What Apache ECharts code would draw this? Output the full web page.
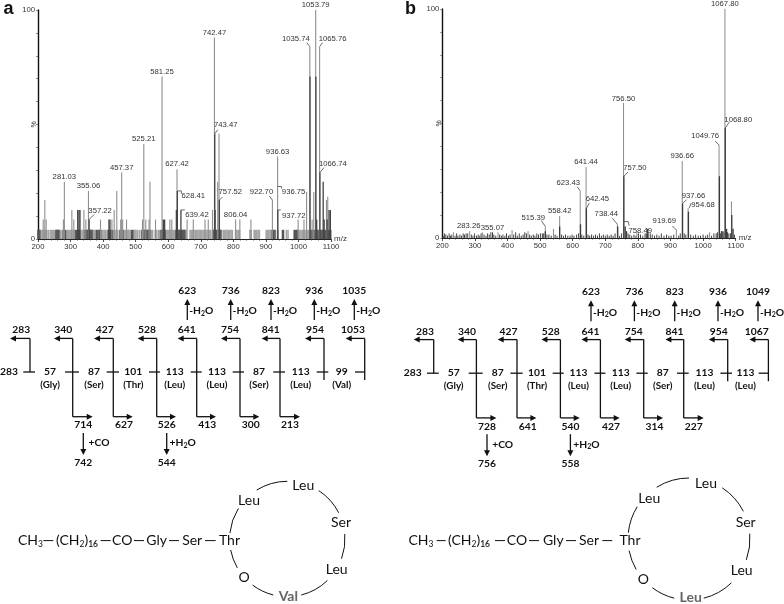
<!DOCTYPE html>
<html>
<head>
<meta charset="utf-8">
<style>
  html, body { margin: 0; background: #fff; }
  #chart { width: 784px; height: 604px; }
</style>
<script src="https://cdn.jsdelivr.net/npm/echarts@6/dist/echarts.min.js"></script>
</head>
<body>
<div id="chart"></div>
<script>
// spectrum a: baseline noise (m/z at the 4% level)
const noiseLevelA = 4;
const noiseLightA = [212,215,219,223,227,232,238,241,244,247,250,266,270,275,288,291,294,297,300,304,308,312,335,338,341,370,373,376,396,399,403,407,412,431,436,440,445,465,468,471,474,477,480,483,495,498,501,506,512,518,548,552,560,565,571,574,594,597,600,604,608,612,616,620,655,667,671,675,679,683,687,691,695,699,703,707,711,715,719,723,727,731,769,773,777,781,785,789,793,797,807,811,815,819,851,855,864,868,872,876,880,901,905,909,913,917,963,968,1004,1008,1012,1016,1020,1024,1028,1032];
const noiseDarkA = [200,203,206,255,258,261,264,278,281,284,316,319,322,325,328,345,348,351,354,357,360,363,366,380,384,388,392,416,419,422,425,428,452,455,458,461,488,491,520,523,526,529,532,535,538,541,544,578,581,584,587,590,624,627,630,633,636,639,642,645,648,651,738,741,744,747,750,753,756,759,762,920,924,928,936,951,954,987,991,995,998,1036,1040,1044,1048,1052,1056,1060,1064,1068,1072,1076,1080,1084,1088,1092,1096,1099];

// spectrum a: peaks [m/z, %]
const peaksLightA = [[216,8.5],[221,17],[225,8.5],[278,8.5],[281,25],[304,12.7],[310,8.5],[341,12.7],[347,8.5],[355,21],[392,8.5],[427,8.5],[434,12.7],[442,21],[454,8.5],[457,29],[460,8.5],[472,8.5],[521,8.5],[525,41.5],[531,8.5],[541,8.5],[544,25],[561,8.5],[581,71],[605,8.5],[611,8.5],[627,30.5],[658,8.5],[677,8.5],[713,8.5],[723,8.5],[736,12.7],[742,88],[752,25],[756,46],[807,8.5],[820,8.5],[854,8.5],[920,17],[936,36],[999,8.5],[1017,8.5],[1025,20.5],[1035,84],[1042,8.5],[1047,20.5],[1053,100],[1065,84],[1086,17],[1090,18.5]];
const peaksDarkA = [[322,12.7],[326,12.7],[329,12.7],[357,8.5],[418,8.5],[421,8.5],[585,8.5],[589,8.5],[625,12.7],[628,21],[639,12.7],[743,46],[744,12.7],[757,17],[936.6,12.7],[1035.5,71],[1053.5,71],[1056,8.5],[1066,29],[1076,25],[1079,8.5],[1088,8.5],[1094,12.7],[1098,12.7]];

// spectrum b: peaks [m/z, %]
const peaksLightB = [[234,2.5],[284,3],[323,2.5],[371,2.5],[414,3.5],[463,3],[516,5],[541,4],[560,9.6],[623,20.6],[641,31],[737,6],[756,59],[797,2.5],[832,2.5],[918,3.5],[936,33.6],[954,13],[1020,2.5],[1049,40.6],[1067,100],[1087,16]];
const peaksDarkB = [[516,3],[560,5],[624,6],[642,13],[738,5],[757,27],[761,5],[765,3],[830,4],[937,15],[955,11.5],[1050,27],[1058,3],[1068,48],[1072,4],[1088,10],[1092,4]];
const noiseB = [[203,1],[207,2],[211,1.5],[216,1],[221,2],[225,1],[229,1.5],[239,1],[244,2],[248,1],[254,1.5],[259,1],[264,2],[268,1.5],[273,2],[278,2],[289,1.5],[294,1],[299,2],[305,1],[310,1.5],[315,1],[319,2],[328,1.5],[334,1],[339,2],[344,1.5],[349,2.5],[354,2.5],[358,1.5],[364,1],[376,1.5],[381,1],[386,1.5],[392,1],[397,2],[403,1],[408,1.5],[419,1.5],[425,2.5],[430,1],[436,2],[442,1],[448,1.5],[453,2.5],[458,2],[468,1.5],[473,1],[479,1.5],[484,1],[490,2],[495,1.5],[501,2],[507,2],[511,2],[521,1.5],[527,1.5],[534,1],[546,1.5],[552,1],[566,1.5],[572,1],[578,1.5],[585,1],[592,1],[598,1.5],[604,1],[612,1.5],[618,2],[628,1.5],[634,1],[647,1.5],[652,1],[658,1.5],[664,1],[670,1.5],[676,1],[682,2],[688,1],[694,1.5],[700,1],[706,1.5],[712,1],[718,1.5],[724,1],[730,2],[744,1],[750,2],[770,2],[775,1.5],[781,1],[788,1.5],[794,1],[802,2],[808,1.5],[815,1],[822,2],[826,2],[838,2],[844,1.5],[851,1],[858,1.5],[865,1],[872,2],[880,1],[888,1.5],[895,1],[902,1],[910,1.5],[925,1],[930,2],[942,2],[947,1.5],[962,1.5],[970,1],[977,1.5],[985,1],[992,1],[1000,1.5],[1008,1],[1014,1.5],[1026,1],[1033,2],[1040,2],[1044,2.5],[1053,2],[1056,3],[1061,3],[1064,2.5],[1075,2.5],[1079,2],[1084,2],[1096,1.5]];

// peak annotations [label, m/z, %]
const labelsA = [["281.03",281,25],["355.06",355,21],["357.22",357,8.5],["457.37",457,29],["525.21",525,41.5],["581.25",581,71],["627.42",627,30.5],["628.41",628,21],["639.42",639,12.7],["742.47",742,88],["743.47",743,46],["757.52",757,17],["806.04",807,8.5],["922.70",920,17],["936.63",936,36],["936.75",936,36],["937.72",936.6,12.7],["1035.74",1035,84],["1053.79",1053,100],["1065.76",1065,84],["1066.74",1066,29]];
const labelsB = [["283.26",284,3],["355.07",354,2.5],["515.39",516,5],["558.42",560,9.6],["623.43",623,20.6],["641.44",641,31],["642.45",642,13],["738.44",737,6],["756.50",756,59],["757.50",757,27],["758.49",761,5],["919.69",918,3.5],["936.66",936,33.6],["937.66",937,15],["954.68",954,13],["1049.76",1049,40.6],["1067.80",1067,100],["1068.80",1068,48]];
const xTickLabels = [200,300,400,500,600,700,800,900,1000,1100];

// fragment ladders
const topIonsA = [623,736,823,936,1035];
const bIonsA = [283,340,427,528,641,754,841,954,1053];
const gapsA = [283,57,87,101,113,113,87,113,99];
const residuesA = ["(Gly)","(Ser)","(Thr)","(Leu)","(Leu)","(Ser)","(Leu)","(Val)"];
const yIonsA = [714,627,526,413,300,213];
const adductsA = [742,544];
const topIonsB = [623,736,823,936,1049];
const bIonsB = [283,340,427,528,641,754,841,954,1067];
const gapsB = [283,57,87,101,113,113,87,113,113];
const residuesB = ["(Gly)","(Ser)","(Thr)","(Leu)","(Leu)","(Ser)","(Leu)","(Leu)"];
const yIonsB = [728,641,540,427,314,227];
const adductsB = [756,558];
const ringA = ["Leu","Leu","Ser","Leu","Val","O"];
const ringB = ["Leu","Leu","Ser","Leu","Leu","O"];

// label placement relative to the top of the stem: dx, dy, leader points
const placeA = [
  [0,-5],[0,-5],[11,-9,[[0,0],[5,-5]]],[0,-5],[0,-5],[0,-5],[0,-5],
  [16,5,[[0,0],[4,0],[4,3]]],[16,5,[[0,0],[4,0]]],[0,-5],
  [11,-9,[[0,0],[3,-4]]],[11,-8,[[0,0],[3,-3]]],[0,-5],[-11,-8,[[0,0],[-3,-4]]],
  [0,-5],[16,35,[[0,30],[4,30],[4,32]]],[16,6,[[0,0],[3,0]]],
  [-14,-8,[[0,0],[-3,-4]]],[0,-5],[13,-8,[[0,0],[3,-4]]],[13,-9,[[0,0],[4,-5]]]
];
const placeB = [
  [-1,-5],[0,-4],[-12,-9,[[0,0],[-4,-6]]],[0,-5],[-12,-8,[[0,0],[-3,-4]]],[0,-5],
  [11,-9,[[0,0],[3,-5]]],[-11,-10,[[0,0],[-5,-6]]],[0,-4],[11,-8,[[0,0],[4,-4]]],
  [15,4,[[-1,-5],[3,-5],[4,-1]]],[-12,-9,[[0,0],[-4,-4]]],[0,-5],[11,-8,[[0,0],[4,-4]]],
  [15,-3,[[1,0],[3,-5]]],[-14,-9,[[0,0],[-4,-4]]],[0,-5],[13,-8,[[0,0],[4,-6]]]
];

const SPEC_FONT = '"Liberation Sans", Arial, sans-serif';
const DIAG_FONT = 'Lato, "Open Sans", sans-serif';
const INK = "#111";

function stems(xAxisIndex, data, color, width) {
  return {
    type: "custom",
    xAxisIndex: xAxisIndex,
    yAxisIndex: xAxisIndex,
    data: data,
    silent: true,
    encode: { x: 0, y: 1 },
    renderItem: (params, api) => {
      const top = api.coord([api.value(0), api.value(1)]);
      const base = api.coord([api.value(0), 0]);
      return {
        type: "line",
        shape: { x1: top[0], y1: top[1], x2: base[0], y2: base[1] },
        style: { stroke: color, lineWidth: width },
      };
    },
  };
}

function peakLabels(xAxisIndex, labels, place) {
  return {
    type: "custom",
    xAxisIndex: xAxisIndex,
    yAxisIndex: xAxisIndex,
    data: labels.map((l) => [l[1], l[2]]),
    silent: true,
    clip: false,
    encode: { x: 0, y: 1 },
    renderItem: (params, api) => {
      const p = api.coord([api.value(0), api.value(1)]);
      const pos = place[params.dataIndex];
      const children = [{
        type: "text",
        style: {
          x: p[0] + pos[0],
          y: p[1] + pos[1],
          text: labels[params.dataIndex][0],
          font: "7.7px " + SPEC_FONT,
          fill: "#333",
          align: "center",
          verticalAlign: "middle",
        },
      }];
      if (pos[2]) {
        children.push({
          type: "polyline",
          shape: { points: pos[2].map((q) => [p[0] + q[0], p[1] + q[1]]) },
          style: { stroke: "#444", lineWidth: 0.8, fill: "none" },
        });
      }
      return { type: "group", children: children };
    },
  };
}

function xAxisFor(index) {
  return {
    type: "value",
    gridIndex: index,
    min: 200,
    max: 1100,
    interval: 100,
    name: "m/z",
    nameLocation: "end",
    nameGap: 3,
    nameTextStyle: { fontFamily: SPEC_FONT, fontSize: 8, color: "#333", verticalAlign: "middle" },
    splitLine: { show: false },
    axisLine: { lineStyle: { color: "#222", width: 1 } },
    axisTick: { length: 3, lineStyle: { color: "#222", width: 0.8 } },
    minorTick: { show: true, splitNumber: 5, length: 1.5, lineStyle: { color: "#333", width: 0.8 } },
    axisLabel: {
      margin: 4,
      fontFamily: SPEC_FONT,
      fontSize: 7.7,
      color: "#333",
      showMinLabel: true,
      showMaxLabel: true,
      formatter: (v) => (xTickLabels.includes(v) ? String(v) : ""),
    },
  };
}

function yAxisFor(index) {
  return {
    type: "value",
    gridIndex: index,
    min: 0,
    max: 100,
    interval: 10,
    name: "%",
    nameLocation: "middle",
    nameGap: 0,
    nameMoveOverlap: false,
    nameRotate: 90,
    nameTextStyle: { fontFamily: SPEC_FONT, fontSize: 7, color: "#333" },
    splitLine: { show: false },
    axisLine: { show: true, lineStyle: { color: "#111", width: 1.4 } },
    axisTick: { length: 2, lineStyle: { color: "#555", width: 0.7 } },
    axisLabel: {
      margin: 3,
      fontFamily: SPEC_FONT,
      fontSize: 7.7,
      color: "#333",
      formatter: (v) => (v === 0 || v === 100 ? String(v) : ""),
    },
  };
}

// ---- diagrams below the spectra, drawn as plain graphic elements ----
const g = [];
const LADDER_SIZE = 10.3;
const RING_SIZE = 14;

function txt(x, y, text, size, weight, fill, rich) {
  g.push({
    type: "text",
    silent: true,
    style: {
      x: x, y: y, text: text, rich: rich,
      font: (weight || "normal") + " " + size + "px " + DIAG_FONT,
      fill: fill || INK, align: "center", verticalAlign: "middle",
    },
  });
}
function seg(x1, y1, x2, y2, w) {
  g.push({
    type: "line", silent: true,
    shape: { x1: x1, y1: y1, x2: x2, y2: y2 },
    style: { stroke: INK, lineWidth: w || 1.3 },
  });
}
function head(x, y, dir) {
  const l = 6, h = 3;
  const pts = {
    left: [[x, y], [x + l, y - h], [x + l, y + h]],
    right: [[x, y], [x - l, y - h], [x - l, y + h]],
    up: [[x, y], [x - h, y + l], [x + h, y + l]],
    down: [[x, y], [x - h, y - l], [x + h, y - l]],
  }[dir];
  g.push({ type: "polygon", silent: true, shape: { points: pts }, style: { fill: INK } });
}
const waterRich = {
  n: { font: "bold " + LADDER_SIZE + "px " + DIAG_FONT, fill: INK, lineHeight: 13 },
  s: { font: "bold 7px " + DIAG_FONT, fill: INK, lineHeight: 13, verticalAlign: "bottom" },
};

const stemX = [30, 72.7, 113.3, 156.7, 196.7, 240, 280, 324, 364.7];
const tipLeft = [10, 54, 94, 137.7, 177.7, 221, 261.7, 305, 345.7];
const bIonX = [21.3, 63.3, 104.7, 147, 186.7, 230, 270.7, 315, 353];
const upX = [187.3, 230.7, 271, 314.3, 354.3];
const gapX = [9, 50, 94, 133.3, 174.7, 217, 259, 300.7, 341.7];
const dashX = [[23.3, 35], [65, 79], [106.7, 119], [149, 160], [190.7, 201.7], [232.7, 244], [273.3, 285], [316.7, 328.3], [355, 364.7]];
const tipRight = [92.7, 132.7, 176, 216, 259.3, 300];
const yIonX = [83.3, 124, 166.7, 207.3, 250.7, 290];
const downX = [83.3, 166.7];

function ladder(dx, dy, top, b, gaps, residues, yIons, adducts) {
  const X = (v) => v + dx, Y = (v) => v + dy;
  top.forEach((v, i) => {
    txt(X(upX[i]), Y(290.7), String(v), LADDER_SIZE, "bold");
    seg(X(upX[i]), Y(320), X(upX[i]), Y(303));
    head(X(upX[i]), Y(299), "up");
    txt(X(upX[i] + 14), Y(311), "{n|-H}{s|2}{n|O}", LADDER_SIZE, "bold", INK, waterRich);
  });
  b.forEach((v, i) => {
    txt(X(bIonX[i]), Y(330), String(v), LADDER_SIZE, "bold");
    seg(X(tipLeft[i] + 4), Y(338.4), X(stemX[i]), Y(338.4));
    head(X(tipLeft[i]), Y(338.4), "left");
  });
  stemX.forEach((x, i) => {
    let end = 372;
    if (i >= 7) end = 380;
    else if (i >= 1) end = 416.7;
    seg(X(x), Y(338.4), X(x), Y(end));
    if (i >= 1 && i <= 6) {
      seg(X(x), Y(416.7), X(tipRight[i - 1] - 4), Y(416.7));
      head(X(tipRight[i - 1]), Y(416.7), "right");
    }
  });
  gaps.forEach((v, i) => {
    txt(X(gapX[i]), Y(371.7), String(v), LADDER_SIZE, "bold");
    seg(X(dashX[i][0]), Y(372), X(dashX[i][1]), Y(372));
    if (i > 0) txt(X(gapX[i]), Y(385), residues[i - 1], 9.8, "bold");
  });
  yIons.forEach((v, i) => txt(X(yIonX[i]), Y(425), String(v), LADDER_SIZE, "bold"));
  adducts.forEach((v, i) => {
    seg(X(downX[i]), Y(433), X(downX[i]), Y(451));
    head(X(downX[i]), Y(455), "down");
    txt(X(downX[i]), Y(462.7), String(v), LADDER_SIZE, "bold");
  });
  txt(X(99), Y(443), "+CO", LADDER_SIZE, "bold");
  txt(X(182.7), Y(443), "{n|+H}{s|2}{n|O}", LADDER_SIZE, "bold", INK, waterRich);
}

const arcAngles = [[186, 212], [238, 270], [303, 333], [355, 380], [46, 76], [104, 127], [150, 169]];

function structure(ring, ringPos, cx, cy, r, chain, tail) {
  const rich = {
    n: { font: RING_SIZE + "px " + DIAG_FONT, fill: INK, lineHeight: 17 },
    s: { font: "8.5px " + DIAG_FONT, fill: INK, lineHeight: 17, verticalAlign: "bottom" },
    b: { font: "bold 8.5px " + DIAG_FONT, fill: "#333", lineHeight: 17, verticalAlign: "bottom" },
  };
  const y = 540.6;
  txt(chain[0], y, "{n|CH}{s|3}", RING_SIZE, "normal", INK, rich);
  txt(chain[1], y, "{n|(CH}{s|2}{n|)}{b|16}", RING_SIZE, "normal", INK, rich);
  txt(chain[2], y, "CO", RING_SIZE);
  txt(chain[3], y, "Gly", RING_SIZE);
  txt(chain[4], y, "Ser", RING_SIZE);
  txt(chain[5], y, "Thr", RING_SIZE);
  tail.forEach((t) => seg(t[0], y, t[1], y, 1));
  ring.forEach((name, i) => {
    const grey = i === 4;
    txt(ringPos[i][0], ringPos[i][1], name, RING_SIZE, grey ? "bold" : "normal", grey ? "#666" : INK);
  });
  arcAngles.forEach((a) => {
    g.push({
      type: "arc", silent: true,
      shape: { cx: cx, cy: cy, r: r, startAngle: a[0] * Math.PI / 180, endAngle: a[1] * Math.PI / 180, clockwise: true },
      style: { stroke: INK, lineWidth: 1, fill: "none" },
    });
  });
}

ladder(0, 0, topIonsA, bIonsA, gapsA, residuesA, yIonsA, adductsA);
ladder(403.7, 1.2, topIonsB, bIonsB, gapsB, residuesB, yIonsB, adductsB);
structure(ringA, [[249, 500], [303.3, 485], [341, 522.3], [336.7, 569], [288.3, 596.7], [244, 577.3]],
  287.3, 539, 57.7, [30.5, 77, 122.2, 156.7, 192.2, 229.5],
  [[43.3, 53.3], [100.7, 110.7], [134, 144], [169, 179], [205, 215.7]]);
structure(ringB, [[649.3, 498.3], [706, 483.3], [745.7, 522.3], [741.7, 570.7], [690.7, 597.3], [643.3, 579]],
  689, 539, 61, [421, 469, 517, 553.3, 589, 630],
  [[436.7, 445.7], [495, 505], [529, 539], [566, 576], [602.3, 612.3]]);
g.push({ type: "text", silent: true, style: { x: 3.5, y: 9, text: "a", font: "bold 18px " + SPEC_FONT, fill: "#111", verticalAlign: "middle" } });
g.push({ type: "text", silent: true, style: { x: 405, y: 9, text: "b", font: "bold 18px " + SPEC_FONT, fill: "#111", verticalAlign: "middle" } });

const chart = echarts.init(document.getElementById("chart"), null, { renderer: "canvas" });
chart.setOption({
  animation: false,
  backgroundColor: "#fff",
  grid: [
    { left: 38, top: 10, width: 293, height: 229 },
    { left: 442.3, top: 9, width: 293.4, height: 229 },
  ],
  xAxis: [xAxisFor(0), xAxisFor(1)],
  yAxis: [yAxisFor(0), yAxisFor(1)],
  series: [
    stems(0, noiseLightA.map((m) => [m, noiseLevelA]), "#a4a4a4", 1.6),
    stems(0, noiseDarkA.map((m) => [m, noiseLevelA]), "#555", 1.6),
    stems(0, peaksLightA, "#8f8f8f", 1.1),
    stems(0, peaksDarkA, "#444", 1.3),
    peakLabels(0, labelsA, placeA),
    stems(1, noiseB, "#444", 1),
    stems(1, peaksLightB, "#8a8a8a", 1),
    stems(1, peaksDarkB, "#3a3a3a", 1.3),
    peakLabels(1, labelsB, placeB),
  ],
  graphic: { elements: g },
});
</script>
</body>
</html>
